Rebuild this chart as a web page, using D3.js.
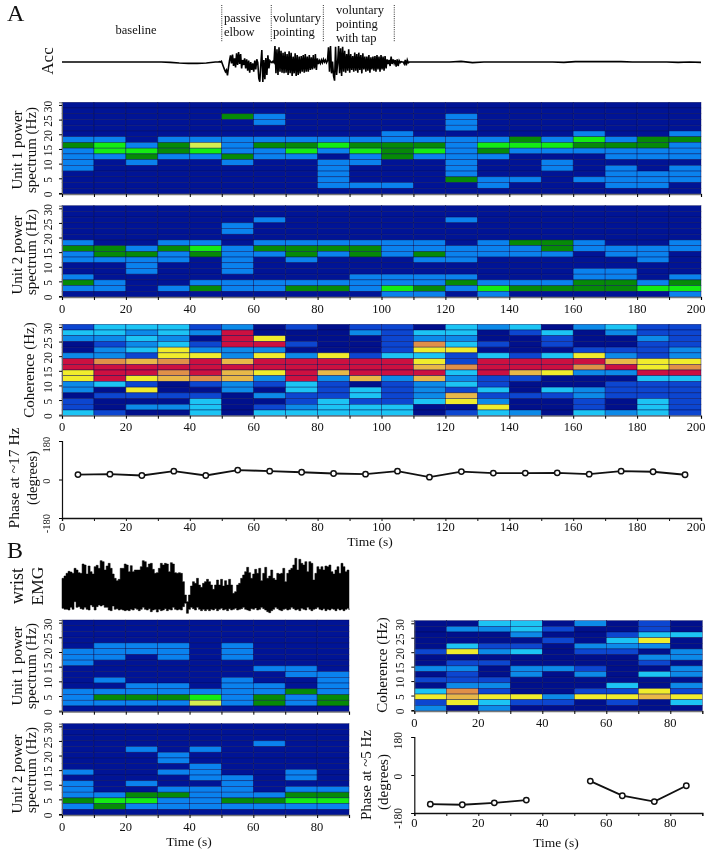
<!DOCTYPE html>
<html><head><meta charset="utf-8">
<script src="https://cdn.jsdelivr.net/npm/d3@7/dist/d3.min.js"></script>
<style>
html,body{margin:0;padding:0;background:#fff;width:709px;height:853px;overflow:hidden}
svg{display:block;filter:blur(0.35px)}
text{font-family:"Liberation Serif","Times New Roman",serif;fill:#111}
</style></head><body><svg id="c" width="709" height="853"></svg>
<script>
// Heat levels. Power: 0 navy,1 blue,2 dark green,3 bright green,4 yellow-green.
// Coherence: 0 navy,1 mid blue,2 sky,3 cyan,4 yellow,5 gold,6 orange,7 red.
const powerColors=["#001496","#0a82ee","#068a08","#14ec14","#d6ee50"];
const cohColors=["#00108c","#0c46d0","#0c8ae8","#1cc4f4","#f0ec2c","#e8b848","#e09048","#cc1040"];
const freqTicks=[0,5,10,15,20,25,30];
const phaseTicks=[-180,0,180];
const timeTicksA=[0,20,40,60,80,100,120,140,160,180,200];
const timeTicksB=[0,20,40,60,80];
// each inner array = one 10 s column, highest frequency bin first
const unit1A=[
[0,0,0,0,0,0,1,2,1,1,1,1,0,0,0,0],[0,0,0,0,0,0,1,3,3,1,0,0,0,0,0,0],[0,0,0,0,0,0,0,1,3,2,1,0,0,0,0,0],[0,0,0,0,0,0,1,2,2,1,0,0,0,0,0,0],
[0,0,0,0,0,0,1,4,3,1,0,0,0,0,0,0],[0,0,2,0,0,0,1,1,1,2,1,0,0,0,0,0],[0,0,1,1,0,0,1,2,1,1,0,0,0,0,0,0],[0,0,0,0,0,0,1,2,3,1,0,0,0,0,0,0],
[0,0,0,0,0,0,1,3,1,0,1,1,1,1,1,0],[0,0,0,0,0,0,1,2,3,1,1,0,0,0,1,0],[0,0,0,0,0,1,1,2,2,2,0,0,0,0,1,0],[0,0,0,0,0,0,1,2,3,1,0,0,0,0,0,0],
[0,0,1,1,1,0,1,1,1,1,1,1,1,2,0,0],[0,0,0,0,0,0,1,3,2,1,0,0,0,1,1,0],[0,0,0,0,0,0,2,3,1,0,0,0,0,1,0,0],[0,0,0,0,0,0,1,3,1,0,1,1,0,0,0,0],
[0,0,0,0,0,1,3,2,1,0,0,0,0,1,0,0],[0,0,0,0,0,0,1,2,1,1,0,1,1,1,1,0],[0,0,0,0,0,0,2,2,1,1,0,0,1,1,1,0],[0,0,0,0,0,1,2,1,1,1,0,1,1,1,0,0]];
const unit2A=[
[0,0,0,0,0,0,1,2,1,1,0,0,1,2,1,0],[0,0,0,0,0,0,0,2,2,1,0,0,0,1,1,0],[0,0,0,0,0,0,0,1,2,1,1,1,0,0,0,0],[0,0,0,0,0,0,1,2,1,1,0,0,0,0,1,0],
[0,0,0,0,0,0,1,3,2,0,0,0,0,1,2,0],[0,0,0,1,1,0,0,1,1,1,1,1,0,1,1,0],[0,0,1,0,0,0,1,2,1,0,0,0,0,1,1,0],[0,0,0,0,0,0,1,2,2,1,0,0,0,1,2,0],
[0,0,0,0,0,0,1,2,1,0,0,0,0,1,2,0],[0,0,0,0,0,0,1,2,2,0,0,0,1,1,1,0],[0,0,0,0,0,0,1,1,1,0,0,0,1,1,3,1],[0,0,0,0,0,0,1,1,2,1,0,0,1,1,2,1],
[0,0,1,0,0,0,0,1,1,1,0,0,1,2,1,0],[0,0,0,0,0,0,1,1,1,0,0,0,0,1,3,1],[0,0,0,0,0,0,2,1,1,0,0,0,0,1,2,0],[0,0,0,0,0,0,2,2,1,0,0,0,0,1,2,0],
[0,0,0,0,0,0,1,1,0,0,0,1,1,2,2,0],[0,0,0,0,0,0,0,1,1,0,0,1,1,2,2,0],[0,0,0,0,0,0,0,1,1,1,0,0,0,1,3,0],[0,0,0,0,0,0,1,1,0,0,0,0,1,2,3,1]];
const cohA=[
[1,3,2,0,0,2,7,7,4,4,2,2,0,1,1,3],[3,3,2,1,2,2,6,7,7,7,3,0,1,0,0,1],[3,2,3,2,3,1,5,7,7,4,1,4,1,0,2,0],[3,3,2,3,4,4,6,7,6,5,0,0,1,0,2,0],
[1,2,0,1,2,4,7,7,7,6,1,0,1,3,3,3],[2,7,7,7,2,2,5,7,5,5,2,2,0,0,0,0],[0,0,4,7,2,4,7,7,4,2,1,0,2,0,1,3],[1,0,0,1,0,2,7,7,7,7,3,3,1,1,2,3],
[0,0,0,0,0,4,7,7,5,2,1,1,1,3,3,3],[1,2,0,0,0,1,7,7,7,5,0,3,3,1,3,3],[1,1,1,1,1,3,7,7,7,2,1,1,1,1,3,3],[0,3,2,6,4,3,4,5,7,5,2,2,2,3,0,0],
[3,3,2,3,4,1,1,6,3,2,3,1,5,4,0,1],[2,0,0,1,0,3,7,7,7,1,1,3,1,2,4,3],[3,1,0,0,0,1,7,7,5,1,0,0,1,0,0,2],[0,3,1,1,0,3,7,7,4,0,0,3,1,0,0,0],
[2,0,0,0,1,4,7,6,2,0,0,2,2,1,1,3],[3,2,0,0,1,2,5,7,2,0,1,1,1,0,0,2],[1,1,2,1,1,1,4,4,7,3,1,1,1,3,3,3],[1,1,1,1,2,2,4,6,7,3,1,1,1,1,1,1]];
const unit1B=[
[0,0,0,0,0,1,1,1,0,0,0,0,1,1,1,0],[0,0,0,0,1,1,1,0,0,0,1,0,1,2,1,0],[0,0,0,0,1,1,0,0,0,0,0,1,1,2,1,0],
[0,0,0,0,1,1,1,0,0,0,0,1,1,2,1,0],[0,0,0,0,0,0,0,0,0,0,0,0,1,3,4,0],[0,0,0,0,1,1,1,0,0,0,1,1,1,1,1,0],
[0,0,0,0,0,0,0,0,1,0,0,1,1,2,2,0],[0,0,0,0,0,0,0,0,1,1,0,0,2,1,1,0],[0,0,0,0,0,0,0,0,0,1,1,1,1,2,2,0]];
const unit2B=[
[0,0,0,0,0,0,0,0,1,0,1,1,1,2,1,0],[0,0,0,0,0,0,0,0,0,0,0,0,1,3,2,0],[0,0,0,0,1,0,0,0,0,0,1,0,2,3,1,0],
[0,0,0,0,0,1,1,0,1,0,0,1,2,1,1,0],[0,0,0,0,1,0,0,1,1,1,0,1,1,1,1,0],[0,0,0,0,0,0,0,0,0,1,1,1,1,2,1,0],
[0,0,0,1,0,0,0,0,0,0,0,0,1,2,1,0],[0,0,0,0,0,0,0,0,1,1,0,1,2,3,1,0],[0,0,0,0,0,0,0,0,0,0,0,1,2,3,1,0]];
const cohB=[
[0,0,0,0,0,1,0,0,2,0,1,0,3,4,1,2],[0,2,0,0,3,4,0,1,2,1,1,2,6,5,4,0],[3,2,0,0,1,2,0,1,0,0,1,2,1,4,3,2],
[3,3,2,0,1,3,0,0,2,2,0,0,0,4,1,0],[0,1,0,1,0,0,0,0,2,0,0,0,0,2,1,0],[2,0,0,0,2,1,0,0,1,2,0,0,1,4,0,0],
[0,0,1,3,2,1,0,0,0,0,0,3,1,4,1,0],[1,1,3,4,2,0,2,1,0,3,0,0,4,5,0,0],[0,0,3,0,0,2,2,0,2,2,0,2,1,4,3,0]];
// phase (degrees) at the centre of each 10 s bin
const phaseTimesA=[5,15,25,35,45,55,65,75,85,95,105,115,125,135,145,155,165,175,185,195];
const phaseA=[23,25,19,39,19,44,39,34,28,25,39,11,37,30,30,31,25,39,36,22];
const phaseTimesB=[5,15,25,35,45,55,65,75,85];
const phaseB=[-138,-141,-132,-119,null,-29,-98,-126,-51];
// accelerometer trace, uncalibrated units as read (larger = lower on page)
const accStart=[66,66,66,66,66,66,66,66,66,66,66,66,67,69,70,70,69,66];
const accPassive=[66,66,66,66,65,66,64,72,80,88,95,90,106,82,62,46,70,44,78,55,82,40,75,36,72,42,85,60,75,55,85,58,92,62,98,66,90,70,95,62,88,58,68,115,125,72,30,126,60,118,54,105,46,85,62,66,68,64,68,18,100,28,105,22,95,32,98,38,100,35,98,42,105,34,100,38,108,50,100,40,108,45,105,50,100,48,95,45,98,42,95,50,95,45,90,52,88,45,85,55];
const accTap=[42,90,55,72,62,70,60,68,58,66,60,68,62,22,95,18,100,65,108,122,20,105,70,18,100,25,108,20,95,32,98,42,92,28,98,42,90,48,95,38,92,42,98,38,90,45,100,40,88,50,95,50,92,45,98,52,88,50,92,48,95,45,88,50,95,45,88,50,92,48,85,58,72,60,78,50,72,58,70,60,80,58,78,62,68,65,66,66,72,60,76,60,68,66,66,66,66,66,66,66];
const accEnd=[66,66,66,66,64,68,66,66,66,66,66,66,66,67,65,65,65,65,65,66,66,66,66,67,66,67];
// wrist EMG envelope, uncalibrated units as read
const emgUpper=[85,78,70,64,66,70,55,60,68,70,42,45,72,48,65,72,50,46,55,32,35,60,48,40,55,72,85,92,88,55,55,42,45,65,47,65,60,60,60,50,32,35,52,42,40,58,70,68,55,40,45,40,42,65,38,42,68,70,68,70,95,135,155,135,108,95,100,85,105,112,100,95,88,95,105,118,105,90,105,88,108,92,105,88,105,130,125,105,100,85,75,65,52,68,85,72,58,70,55,92,70,52,85,78,60,85,90,70,72,70,55,95,70,60,55,45,25,60,28,40,45,35,65,35,40,90,70,50,58,50,60,48,50,45,65,72,60,50,70,40,50,65,60,75];
const emgLower=[175,178,178,180,172,178,155,172,170,176,178,172,178,180,165,170,180,170,165,168,165,172,172,180,182,168,178,176,180,178,180,182,180,182,178,180,175,178,182,178,172,178,180,176,185,180,178,186,178,182,180,176,182,178,180,172,178,180,178,180,170,160,190,178,172,176,180,172,178,182,178,182,178,182,178,180,176,182,178,175,180,178,182,176,180,178,175,180,178,176,172,178,180,182,176,178,174,180,178,172,176,180,185,188,182,178,172,176,180,182,178,176,180,178,172,176,180,178,182,175,178,180,172,178,182,178,176,172,178,180,176,182,178,180,176,178,182,176,180,178,182,178,175,180];

const svg=d3.select("#c");
function heat(x0,x1,y0,y1,cols,palette,tmax,labels,ticks){
  const g=svg.append("g");
  const x=d3.scaleBand().domain(d3.range(cols.length)).range([x0,x1]);
  const y=d3.scaleBand().domain(d3.range(16)).range([y0,y1]);
  const colsel=g.selectAll("g.col").data(cols).join("g").attr("transform",(d,i)=>`translate(${x(i)},0)`);
  colsel.selectAll("rect").data(d=>d).join("rect")
    .attr("y",(d,i)=>y(i)).attr("width",x.bandwidth()).attr("height",y.bandwidth())
    .attr("fill",d=>palette[d]).attr("stroke","#000a50").attr("stroke-width",0.55).attr("stroke-opacity",0.75);
  const fy=d3.scaleLinear().domain([-0.35,30.9]).range([y1,y0]);
  const ya=g.append("g").attr("transform",`translate(${x0},0)`).call(d3.axisLeft(fy).tickValues(freqTicks).tickSize(3).tickFormat(d3.format("d")));
  ya.select(".domain").attr("stroke","#666");
  ya.selectAll("text").attr("font-size",11.5).attr("x",null).attr("dy",null).attr("y",0).attr("text-anchor","middle")
    .attr("transform","translate(-10,1) rotate(-90)");
  const tx=d3.scaleLinear().domain([0,tmax]).range([x0,x1]);
  const xa=g.append("g").attr("transform",`translate(0,${y1})`).call(d3.axisBottom(tx).ticks(tmax/10).tickSize(3));
  xa.select(".domain").attr("stroke","#777").attr("stroke-width",1.3);
  xa.selectAll(".tick text").remove();
  if(labels){labelTicks(tx,ticks,labels);}
}
function labelTicks(tx,ticks,y){
  svg.append("g").selectAll("text").data(ticks).join("text")
    .attr("x",d=>Math.min(tx(d),696)).attr("y",y).attr("text-anchor","middle").attr("font-size",12.5).text(d=>d);
}
function phasePlot(x0,x1,y0,y1,tmax,times,vals,ticks,labY,fs,yLabX){
  const g=svg.append("g");
  const tx=d3.scaleLinear().domain([0,tmax]).range([x0,x1]);
  const py=d3.scaleLinear().domain([-180,180]).range([y1,y0]);
  const xa=g.append("g").attr("transform",`translate(0,${y1})`).call(d3.axisBottom(tx).ticks(tmax/10).tickSize(3));
  xa.select(".domain").attr("stroke","#111").attr("stroke-width",1.3);
  xa.selectAll("line").attr("stroke","#111");
  xa.selectAll(".tick text").remove();
  labelTicks(tx,ticks,labY);
  const ya=g.append("g").attr("transform",`translate(${x0},0)`).call(d3.axisLeft(py).tickValues(phaseTicks).tickSize(3).tickFormat(d=>d));
  ya.select(".domain").attr("stroke","#111").attr("stroke-width",1.2);
  ya.selectAll("text").attr("font-size",fs).attr("x",null).attr("y",0).attr("dy",null).attr("text-anchor","middle")
    .attr("transform",d=>`translate(-${x0-yLabX},${d===-180?5:(d===180?3:1)}) rotate(-90)`);
  const pts=times.map((t,i)=>({t,v:vals[i]}));
  g.append("path").attr("fill","none").attr("stroke","#111").attr("stroke-width",1.9)
    .attr("d",d3.line().defined(d=>d.v!==null).x(d=>tx(d.t)).y(d=>py(d.v))(pts));
  g.selectAll("circle").data(pts.filter(d=>d.v!==null)).join("circle")
    .attr("cx",d=>tx(d.t)).attr("cy",d=>py(d.v)).attr("r",2.7).attr("fill","#fff").attr("stroke","#111").attr("stroke-width",1.5);
}
function rotLabel(x,y,txt,fs){
  svg.append("text").attr("transform",`translate(${x},${y}) rotate(-90)`).attr("text-anchor","middle").attr("font-size",fs).text(txt);
}
function label(x,y,txt,fs,anchor){
  svg.append("text").attr("x",x).attr("y",y).attr("font-size",fs).attr("text-anchor",anchor||"start").text(txt);
}

// Panel A
label(7,21,"A",24);
heat(62,701,102.3,194,unit1A,powerColors,200);
heat(62,701,205.7,297,unit2A,powerColors,200,313,timeTicksA);
heat(62,701,324.3,415.7,cohA,cohColors,200,431,timeTicksA);
phasePlot(62,701,441,518,200,phaseTimesA,phaseA,timeTicksA,531,10.5,50);

// Acc trace
const tA=d3.scaleLinear().domain([0,200]).range([62,701]);
const accY=d3.scaleLinear().domain([0,135]).range([40,85]);
function seg(vals,t0,t1){return vals.map((v,i)=>[t0+(t1-t0)*i/(vals.length-1),v]);}
const accPts=[...seg(accStart,0,48),...seg(accPassive,48,79.3),...seg(accTap,79.3,110.6),...seg(accEnd,110.6,200)];
svg.append("path").attr("fill","none").attr("stroke","#000").attr("stroke-width",1.6)
  .attr("d",d3.line().x(d=>tA(d[0])).y(d=>accY(d[1]))(accPts));
[50,65.5,81.8,104].forEach(t=>{
  svg.append("line").attr("x1",tA(t)).attr("x2",tA(t)).attr("y1",5).attr("y2",42)
    .attr("stroke","#333").attr("stroke-width",1).attr("stroke-dasharray","1 1.2");
});
label(136,34,"baseline",12.5,"middle");
label(224,22,"passive",12.5);label(224,35.5,"elbow",12.5);
label(273,22,"voluntary",12.5);label(273,35.5,"pointing",12.5);
label(336,14,"voluntary",12.5);label(336,28,"pointing",12.5);label(336,42,"with tap",12.5);
rotLabel(53,61,"Acc",17);
rotLabel(22,150,"Unit 1 power",15);rotLabel(36,150,"spectrum (Hz)",15);
rotLabel(22,255,"Unit 2 power",15);rotLabel(36,252,"spectrum (Hz)",15);
rotLabel(34,370,"Coherence (Hz)",15);
rotLabel(19,478,"Phase at ~17 Hz",15.5);rotLabel(37,478,"(degrees)",14.5);
label(370,546,"Time (s)",13.5,"middle");

// Panel B
label(7,558,"B",24);
const tB=d3.scaleLinear().domain([0,90]).range([62,349]);
const emgY=d3.scaleLinear().domain([0,195]).range([550,615]);
svg.append("path").attr("fill","#000").attr("stroke","#000").attr("stroke-width",0.5)
  .attr("d",d3.area().curve(d3.curveStepAfter).x((d,i)=>tB(i*90/(emgUpper.length-1))).y0((d,i)=>emgY(emgLower[i])).y1(d=>emgY(d))(emgUpper));
rotLabel(23,586,"wrist",18);rotLabel(43,586,"EMG",17.5);
heat(62,349,620,711.7,unit1B,powerColors,90);
heat(62,349,723.7,815,unit2B,powerColors,90,831,timeTicksB);
rotLabel(22,666,"Unit 1 power",15);rotLabel(36,666,"spectrum (Hz)",15);
rotLabel(22,774,"Unit 2 power",15);rotLabel(36,770,"spectrum (Hz)",15);
label(189,846,"Time (s)",13.5,"middle");
heat(414.3,702.3,620.7,711,cohB,cohColors,90,727,timeTicksB);
rotLabel(387,665,"Coherence (Hz)",15);
phasePlot(414.3,702.3,737,813,90,phaseTimesB,phaseB,timeTicksB,827,11.5,402);
rotLabel(371,775,"Phase at ~5 Hz",15);rotLabel(388,782,"(degrees)",15);
label(556,847,"Time (s)",13.5,"middle");
</script></body></html>
